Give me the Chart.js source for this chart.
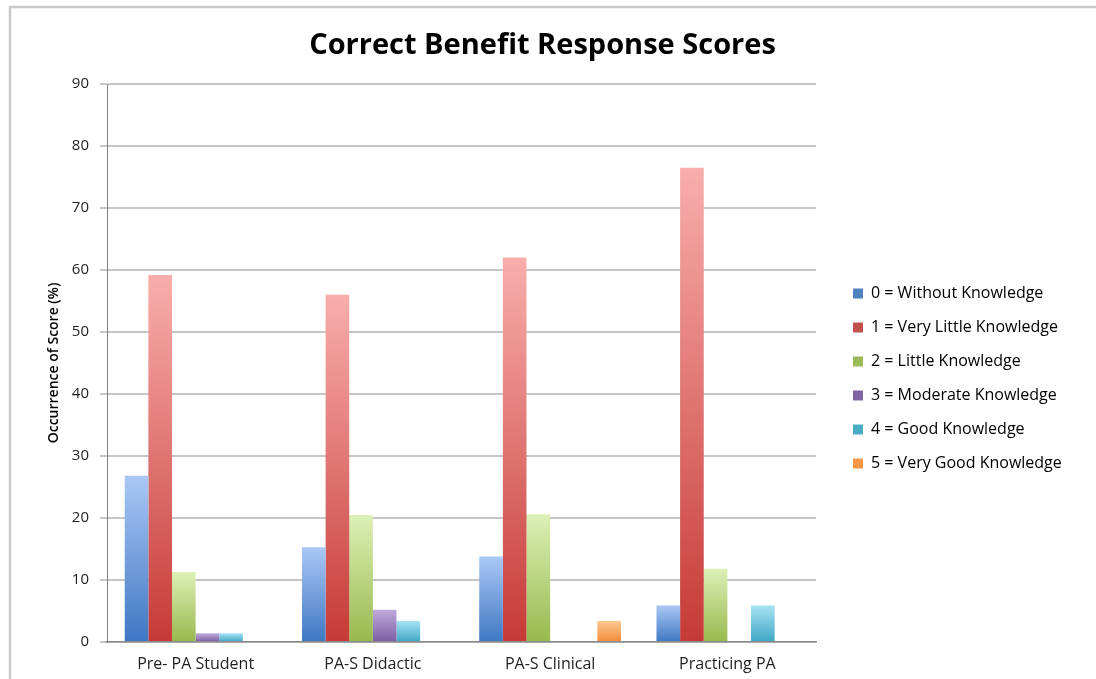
<!DOCTYPE html>
<html>
<head>
<meta charset="utf-8">
<title>Correct Benefit Response Scores</title>
<script src="https://cdn.jsdelivr.net/npm/chart.js@4/dist/chart.umd.min.js"></script>
<style>
  html, body { margin: 0; padding: 0; background: #ffffff; }
  #wrap { width: 1096px; height: 679px; position: relative; }
</style>
</head>
<body>
<div id="wrap"><canvas id="chart" width="1096" height="679"></canvas></div>
<script>
// Respondent groups along the x axis
const categories = ['Pre- PA Student', 'PA-S Didactic', 'PA-S Clinical', 'Practicing PA'];

// Share of respondents (%) at each knowledge score
const withoutKnowledge    = [26.8, 15.3, 13.8, 5.9];
const veryLittleKnowledge = [59.2, 56.0, 62.0, 76.5];
const littleKnowledge     = [11.3, 20.5, 20.6, 11.8];
const moderateKnowledge   = [1.4, 5.2, 0, 0];
const goodKnowledge       = [1.4, 3.4, 0, 5.9];
const veryGoodKnowledge   = [0, 0, 3.4, 0];

const seriesNames = [
  '0 = Without Knowledge',
  '1 = Very Little Knowledge',
  '2 = Little Knowledge',
  '3 = Moderate Knowledge',
  '4 = Good Knowledge',
  '5 = Very Good Knowledge'
];
const seriesValues = [withoutKnowledge, veryLittleKnowledge, littleKnowledge,
                      moderateKnowledge, goodKnowledge, veryGoodKnowledge];

// y axis range and tick step
const yMin = 0, yMax = 90, yStep = 10;

// Fill colours: light at the bar top, full tone at the base
const seriesStyle = [
  { light: '#aac8f5', dark: '#3f77c3', solid: '#4f81bd' },
  { light: '#f8aeac', dark: '#c63a36', solid: '#c0504d' },
  { light: '#ddf0b6', dark: '#97b94d', solid: '#9bbb59' },
  { light: '#c0aadc', dark: '#7a5ca2', solid: '#8064a2' },
  { light: '#a8e2f4', dark: '#3ea6c3', solid: '#4bacc6' },
  { light: '#fdc891', dark: '#f38b38', solid: '#f79646' }
];

const FONT = "'Open Sans', 'DejaVu Sans', sans-serif";
const TEXT = '#1f1f1f';

// Vertical gradient for each bar, from its top down to the zero line
function barFill(i) {
  return function (ctx) {
    const st = seriesStyle[i];
    const chart = ctx.chart;
    if (ctx.type !== 'data' || !chart.chartArea || !chart.scales.y) return st.solid;
    const y = chart.scales.y;
    const top = y.getPixelForValue(ctx.raw);
    const base = y.getPixelForValue(0);
    if (!(base - top > 0.5)) return st.solid;
    const g = chart.ctx.createLinearGradient(0, top, 0, base);
    g.addColorStop(0, st.light);
    g.addColorStop(1, st.dark);
    return g;
  };
}

// Thin grey frame along the top and left edges of the figure
const framePlugin = {
  id: 'frame',
  beforeDraw(chart) {
    const c = chart.ctx;
    c.save();
    c.strokeStyle = '#c9c9c9';
    c.lineWidth = 2.5;
    c.beginPath();
    c.moveTo(10, chart.height);
    c.lineTo(10, 7);
    c.lineTo(chart.width, 7);
    c.stroke();
    c.restore();
  }
};

// Fixed-width legend column beside the plot; title centred a little left
const boxPlacement = {
  id: 'boxPlacement',
  beforeLayout(chart) {
    const lg = chart.legend;
    if (lg && !lg.__fixedWidth) {
      const fit = lg.fit;
      lg.fit = function () {
        fit.call(this);
        if (!this.isHorizontal()) this.width = 280;
      };
      lg.__fixedWidth = true;
    }
  },
  afterLayout(chart) {
    const lg = chart.legend;
    if (lg) {
      lg.left += 19; lg.right += 19;
      lg.top += 39; lg.bottom += 39;
    }
    const tt = chart.titleBlock;
    if (tt) {
      tt.left -= 28; tt.right -= 28;
    }
  }
};

const datasets = seriesNames.map((name, i) => ({
  label: name,
  data: seriesValues[i],
  backgroundColor: barFill(i),
  borderWidth: 0,
  categoryPercentage: 0.8,
  barPercentage: 1.0
}));

new Chart(document.getElementById('chart'), {
  type: 'bar',
  data: { labels: categories, datasets },
  plugins: [framePlugin, boxPlacement],
  options: {
    responsive: false,
    animation: false,
    devicePixelRatio: 1,
    layout: { padding: { left: 45, right: 0, top: 0, bottom: 0 } },
    plugins: {
      title: {
        display: true,
        text: 'Correct Benefit Response Scores',
        color: '#000000',
        font: { family: FONT, size: 29, weight: 'bold' },
        padding: { top: 28, bottom: 21.2 }
      },
      legend: {
        display: true,
        position: 'right',
        labels: {
          boxWidth: 10,
          boxHeight: 10,
          padding: 18,
          color: TEXT,
          font: { family: FONT, size: 16 },
          generateLabels(chart) {
            return chart.data.datasets.map((ds, i) => ({
              text: ds.label,
              fillStyle: seriesStyle[i].solid,
              strokeStyle: seriesStyle[i].solid,
              lineWidth: 0,
              hidden: !chart.isDatasetVisible(i),
              datasetIndex: i
            }));
          }
        }
      },
      tooltip: { enabled: false }
    },
    scales: {
      x: {
        type: 'category',
        grid: { display: false, drawTicks: false },
        border: { display: true, color: '#8a8a8a', width: 1.5 },
        ticks: { color: TEXT, font: { family: FONT, size: 16 }, padding: 13 },
        afterFit(scale) { scale.height = 37; }
      },
      y: {
        min: yMin,
        max: yMax,
        ticks: { stepSize: yStep, color: TEXT, font: { family: FONT, size: 15 }, padding: 11 },
        grid: { color: '#c6c6c6', lineWidth: 2, tickLength: 7, drawTicks: true, tickColor: '#c6c6c6' },
        border: { display: true, color: '#7f7f7f', width: 1 },
        title: {
          display: true,
          text: 'Occurrence of Score (%)',
          color: '#000000',
          font: { family: FONT, size: 14, weight: '600' },
          padding: { top: 1, bottom: 0 }
        },
        afterFit(scale) { scale.width = 62; }
      }
    }
  }
});
</script>
</body>
</html>
